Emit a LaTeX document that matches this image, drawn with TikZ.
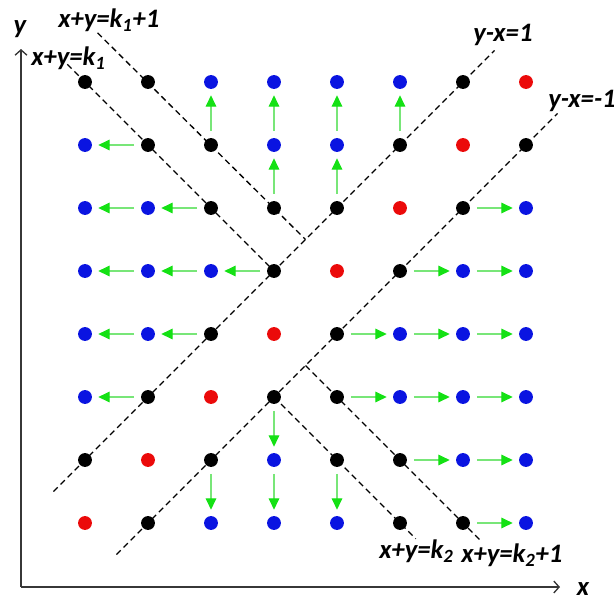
\documentclass[tikz,border=0pt]{standalone}
\usepackage{fontspec}
\setmainfont{Carlito}
\usetikzlibrary{arrows.meta}
\definecolor{dotblue}{RGB}{10,20,225}
\definecolor{dotred}{RGB}{235,10,10}
\definecolor{flowgreen}{RGB}{120,230,120}
\definecolor{headgreen}{RGB}{20,225,20}
\definecolor{axisgray}{RGB}{55,55,55}
\begin{document}
\begin{tikzpicture}[x=0.75pt,y=-0.75pt,
  dot/.style={circle,inner sep=0pt,minimum size=10.4pt},
  bdot/.style={dot,fill=black},
  udot/.style={dot,fill=dotblue},
  rdot/.style={dot,fill=dotred},
  flow/.style={draw=flowgreen,line width=0.8pt,
    -{Triangle[length=8.5pt,width=8pt,color=headgreen]},
    shorten <=5pt, shorten >=4.6pt},
  guide/.style={line width=1pt, dash pattern=on 4.5pt off 3pt},
  lab/.style={font=\bfseries\itshape\fontsize{20}{23}\selectfont, inner sep=0pt},
  axisline/.style={line width=1.3pt, draw=axisgray,
    -{Straight Barb[length=4pt,width=9pt,line width=1pt]}}
]
\useasboundingbox (0,0) rectangle (614,600);
% axes
\coordinate (O) at (21,587);
\coordinate (Xend) at (560,587);
\coordinate (Yend) at (21,49);
\draw[axisline] (O) -- (Xend);
\draw[axisline] (O) -- (Yend);
\node[lab,anchor=base] (xl) at (583,595) {x};
\node[lab,anchor=base] (yl) at (20,33) {y};

\begin{scope}[shift={(85,523)},x=47.25pt,y=47.25pt]
  % guide line end points
  \coordinate (a1) at (-0.5,0.5);  \coordinate (a2) at (6.5,7.5);
  \coordinate (b1) at (0.5,-0.5);  \coordinate (b2) at (7.5,6.5);
  \coordinate (c1) at (-0.28,7.28); \coordinate (c2) at (3,4);
  \coordinate (d1) at (0.2,7.78);  \coordinate (d2) at (3.5,4.5);
  \coordinate (e1) at (3,2);       \coordinate (e2) at (5.25,-0.25);
  \coordinate (f1) at (3.5,2.5);   \coordinate (f2) at (6.3,-0.3);
  \draw[guide] (a1) -- (a2);
  \draw[guide] (b1) -- (b2);
  \draw[guide] (c1) -- (c2);
  \draw[guide] (d1) -- (d2);
  \draw[guide] (e1) -- (e2);
  \draw[guide] (f1) -- (f2);
  % dots
  \foreach \i/\j in {0/7,1/7,6/7,1/6,2/6,5/6,7/6,2/5,3/5,4/5,6/5,3/4,5/4,
                     2/3,4/3,1/2,3/2,4/2,0/1,2/1,4/1,5/1,1/0,5/0,6/0}
    \node[bdot] (n\i\j) at (\i,\j) {};
  \foreach \k in {0,...,7}
    \node[rdot] (n\k\k) at (\k,\k) {};
  \foreach \i/\j in {2/7,3/7,4/7,5/7,0/6,3/6,4/6,0/5,1/5,7/5,
                     0/4,1/4,2/4,6/4,7/4,0/3,1/3,5/3,6/3,7/3,
                     0/2,5/2,6/2,7/2,3/1,6/1,7/1,2/0,3/0,4/0,7/0}
    \node[udot] (n\i\j) at (\i,\j) {};
  % flows
  \foreach \s/\t in {26/27,35/36,36/37,45/46,46/47,56/57,
                     16/06,25/15,15/05,34/24,24/14,14/04,23/13,13/03,12/02,
                     65/75,54/64,64/74,43/53,53/63,63/73,42/52,52/62,62/72,
                     51/61,61/71,60/70,
                     32/31,31/30,21/20,41/40}
    \draw[flow] (n\s) -- (n\t);
\end{scope}

% labels
\node[lab,anchor=base west] (l1) at (58,27) {x+y=k\textsubscript{1}+1};
\node[lab,anchor=base west] (l2) at (31,65) {x+y=k\textsubscript{1}};
\node[lab,anchor=base west] (l3) at (473,41) {y-x=1};
\node[lab,anchor=base west] (l4) at (548,107) {y-x=-1};
\node[lab,anchor=base west] (l5) at (379,558) {x+y=k\textsubscript{2}};
\node[lab,anchor=base west] (l6) at (461,562) {x+y=k\textsubscript{2}+1};
\end{tikzpicture}
\end{document}
